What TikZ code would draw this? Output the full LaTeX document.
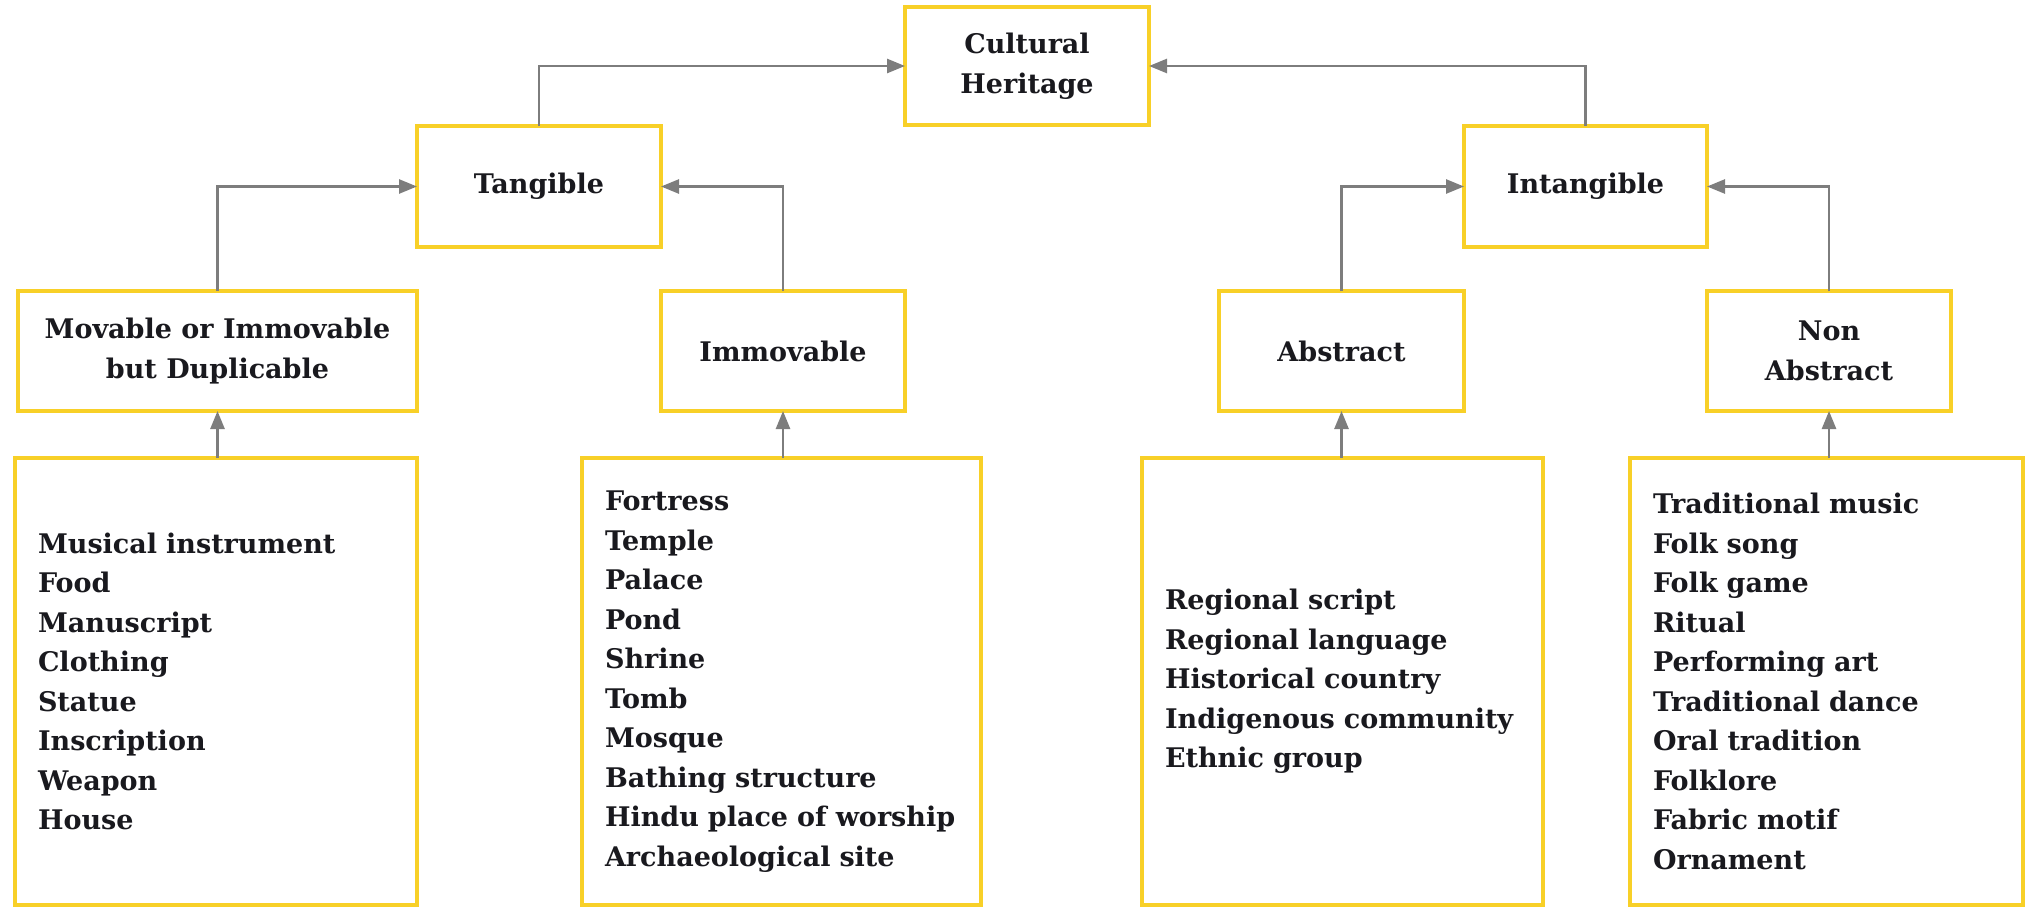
\documentclass[tikz,border=0pt]{standalone}
\usepackage{fontspec}
\setmainfont{DejaVu Serif}
\usetikzlibrary{arrows.meta}
\definecolor{boxyellow}{RGB}{248,208,40}
\definecolor{arrgray}{RGB}{125,125,125}
\definecolor{txt}{RGB}{25,25,30}
\tikzset{
  hbox/.style={draw=boxyellow, line width=3.5pt, fill=white, outer sep=0pt, inner sep=4pt,
    minimum height=119pt, align=center, text=txt,
    font=\fontsize{27}{39.5}\selectfont\bfseries},
  lbox/.style={draw=boxyellow, line width=3.5pt, fill=white, outer sep=0pt, inner xsep=23pt, inner ysep=0pt,
    minimum height=447pt, align=left, text=txt,
    font=\fontsize{27}{39.5}\selectfont\bfseries},
  arr/.style={draw=arrgray, line width=2.6pt, -{Triangle[length=18pt,width=14pt]}},
}
\begin{document}
\begin{tikzpicture}[x=1pt,y=-1pt]
\useasboundingbox (0,0) rectangle (2025,907);
% header boxes
\node[hbox, minimum width=244pt, minimum height=118pt] (ch) at (1027,66) {Cultural\\Heritage};
\node[hbox, minimum width=244pt, minimum height=121pt] (tan) at (539,186.5) {Tangible};
\node[hbox, minimum width=243pt, minimum height=121pt] (int) at (1585.5,186.5) {Intangible};
\node[hbox, minimum width=399pt, minimum height=120pt] (mov) at (217.5,351) {Movable or Immovable\\but Duplicable};
\node[hbox, minimum width=244pt, minimum height=120pt] (imm) at (783,351) {Immovable};
\node[hbox, minimum width=245pt, minimum height=120pt] (abs) at (1341.5,351) {Abstract};
\node[hbox, minimum width=244pt, minimum height=120pt] (nab) at (1829,351) {Non\\Abstract};
% list boxes
\node[lbox, text width=356pt] (lmov) at (216,681.5) {Musical instrument\\Food\\Manuscript\\Clothing\\Statue\\Inscription\\Weapon\\House};
\node[lbox, text width=353pt] (limm) at (781.5,681.5) {Fortress\\Temple\\Palace\\Pond\\Shrine\\Tomb\\Mosque\\Bathing structure\\Hindu place of worship\\Archaeological site};
\node[lbox, text width=355pt] (labs) at (1342.5,681.5) {Regional script\\Regional language\\Historical country\\Indigenous community\\Ethnic group};
\node[lbox, text width=347pt] (lnab) at (1826.5,681.5) {Traditional music\\Folk song\\Folk game\\Ritual\\Performing art\\Traditional dance\\Oral tradition\\Folklore\\Fabric motif\\Ornament};
% connectors
\draw[arr] (tan.north) |- (ch.west);
\draw[arr] (int.north) |- (ch.east);
\draw[arr] (mov.north) |- (tan.west);
\draw[arr] (imm.north) |- (tan.east);
\draw[arr] (abs.north) |- (int.west);
\draw[arr] (nab.north) |- (int.east);
\draw[arr] (mov.south |- lmov.north) -- (mov.south);
\draw[arr] (imm.south |- limm.north) -- (imm.south);
\draw[arr] (abs.south |- labs.north) -- (abs.south);
\draw[arr] (nab.south |- lnab.north) -- (nab.south);
\end{tikzpicture}
\end{document}
